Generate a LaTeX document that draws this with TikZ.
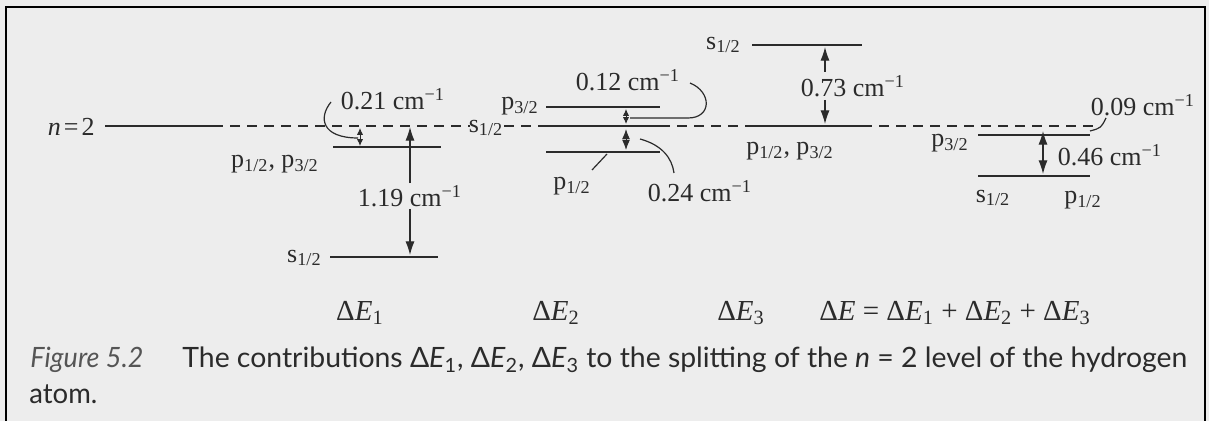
\documentclass[tikz,border=0pt]{standalone}
\usepackage{fontspec}
\setmainfont{Liberation Serif}
\newfontfamily\capfont{Lato}
\usetikzlibrary{arrows.meta,positioning,calc}
\definecolor{pagegray}{HTML}{EDEDED}
\definecolor{inkgray}{HTML}{2B2B2B}
\definecolor{capgray}{HTML}{555555}
\tikzset{
  level/.style={line width=1.3pt, draw=inkgray},
  mainline/.style={line width=0.8pt, draw=inkgray, dash pattern=on 5pt off 3.5pt},
  gap/.style={-{Latex[length=2.4mm,width=1.6mm]}, line width=0.6pt, draw=inkgray},
  tinygap/.style={{Latex[length=1.2mm,width=1.1mm]}-{Latex[length=1.2mm,width=1.1mm]}, line width=0.5pt, draw=inkgray},
  leader/.style={line width=0.6pt, draw=inkgray},
  lbl/.style={font=\fontsize{13}{15}\selectfont, text=inkgray, inner sep=1pt},
  sumlbl/.style={font=\fontsize{14.5}{17}\selectfont, text=inkgray, inner sep=1pt},
  captext/.style={font=\capfont\fontsize{14}{17}\selectfont, text=inkgray, inner sep=0pt, anchor=base west}
}

\begin{document}
\begin{tikzpicture}[x=0.5pt, y=-0.5pt]
  \useasboundingbox (0,0) rectangle (1209,421);
  \fill[pagegray] (0,0) rectangle (1209,421);
  \draw[line width=1.2pt, black] (6,421) -- (6,7) -- (1205,7) -- (1205,421);

  % n = 2 line
  \node[lbl, anchor=east] (nlbl) at (97,127) {\textit{n}\hspace{1.5pt}=\hspace{1.5pt}2};
  \coordinate (n2a) at (105,126);
  \coordinate (n2b) at (213,126);
  \draw[level, line width=1pt] (n2a) -- (n2b);
  \draw[mainline] (n2b) -- (470,126);
  \draw[mainline] (504,126) -- (546,126);
  \draw[mainline] (660,126) -- (752,126);
  \draw[mainline] (862,126) -- (1095,126);

  % Delta E1
  \coordinate (pa1) at (333,147);
  \coordinate (pb1) at (441,147);
  \coordinate (sa1) at (330,257);
  \coordinate (sb1) at (438,257);
  \draw[level] (pa1) -- (pb1);
  \draw[level] (sa1) -- (sb1);
  \node[lbl] (plbl1) at (275,164) {p\textsubscript{1/2}, p\textsubscript{3/2}};
  \node[lbl, anchor=east] (slbl1) at (324,258) {s\textsubscript{1/2}};
  \node[lbl] (gap1) at (410,196) {1.19 cm\textsuperscript{−1}};
  \coordinate (top1) at (410,127);
  \coordinate (bot1) at (410,255);
  \draw[gap] (gap1.north) -- (top1);
  \draw[gap] (gap1.south) -- (bot1);
  \node[lbl] (fine1) at (393,99) {0.21 cm\textsuperscript{−1}};
  \coordinate (ft1) at (360,128);
  \coordinate (fb1) at (360,146);
  \draw[tinygap] (ft1) -- (fb1);
  \draw[leader] (331,102) .. controls (318,118) and (322,138) .. (358,138);

  % Delta E2
  \coordinate (pa2) at (546,107);
  \coordinate (pb2) at (660,107);
  \coordinate (sa2) at (546,126);
  \coordinate (sb2) at (660,126);
  \coordinate (qa2) at (546,152);
  \coordinate (qb2) at (660,152);
  \draw[level] (pa2) -- (pb2);
  \draw[level] (sa2) -- (sb2);
  \draw[level] (qa2) -- (qb2);
  \node[lbl, anchor=east] (plbl2) at (541,106) {p\textsubscript{3/2}};
  \node[lbl] (slbl2) at (486,128) {s\textsubscript{1/2}};
  \node[lbl] (qlbl2) at (572,186) {p\textsubscript{1/2}};
  \draw[leader] (592,170) -- (607,154);
  \coordinate (ft2) at (626,109);
  \coordinate (fb2) at (626,124);
  \draw[tinygap] (ft2) -- (fb2);
  \coordinate (gt2) at (626,129);
  \coordinate (gb2) at (626,150);
  \draw[tinygap, {Latex[length=1.8mm,width=1.4mm]}-{Latex[length=1.8mm,width=1.4mm]}] (gt2) -- (gb2);
  \node[lbl] (fine2) at (628,80) {0.12 cm\textsuperscript{−1}};
  \draw[leader] (690,83) .. controls (712,92) and (712,118) .. (688,118) -- (630,118);
  \node[lbl] (lamb) at (700,191) {0.24 cm\textsuperscript{−1}};
  \draw[leader] (640,139) .. controls (662,145) and (672,158) .. (674,173);

  % Delta E3
  \coordinate (sa3) at (752,45);
  \coordinate (sb3) at (862,45);
  \coordinate (pa3) at (752,126);
  \coordinate (pb3) at (862,126);
  \draw[level] (sa3) -- (sb3);
  \draw[level] (pa3) -- (pb3);
  \node[lbl, anchor=east] (slbl3) at (743,45) {s\textsubscript{1/2}};
  \node[lbl] (plbl3) at (790,151) {p\textsubscript{1/2}, p\textsubscript{3/2}};
  \node[lbl] (gap3) at (853,86) {0.73 cm\textsuperscript{−1}};
  \coordinate (top3) at (825,47);
  \coordinate (bot3) at (825,124);
  \draw[gap] (825,72) -- (top3);
  \draw[gap] (825,100) -- (bot3);

  % total
  \coordinate (pa4) at (978,135);
  \coordinate (pb4) at (1090,135);
  \coordinate (sa4) at (978,176);
  \coordinate (sb4) at (1090,176);
  \draw[level] (pa4) -- (pb4);
  \draw[level] (sa4) -- (sb4);
  \node[lbl, anchor=east] (plbl4) at (971,143) {p\textsubscript{3/2}};
  \node[lbl] (slbl4) at (993,198) {s\textsubscript{1/2}};
  \node[lbl] (qlbl4) at (1083,200) {p\textsubscript{1/2}};
  \coordinate (top4) at (1043,131);
  \coordinate (bot4) at (1043,174);
  \draw[gap, {Latex[length=2.4mm,width=1.6mm]}-{Latex[length=2.4mm,width=1.6mm]}] (top4) -- (bot4);
  \node[lbl] (gap4) at (1110,155) {0.46 cm\textsuperscript{−1}};
  \node[lbl] (fine4) at (1143,105) {0.09 cm\textsuperscript{−1}};
  \draw[leader] (1090,131) .. controls (1101,128) .. (1106,118);

  % contributions
  \node[sumlbl] (de1) at (360,313) {Δ\textit{E}\textsubscript{1}};
  \node[sumlbl] (de2) at (556,313) {Δ\textit{E}\textsubscript{2}};
  \node[sumlbl] (de3) at (741,313) {Δ\textit{E}\textsubscript{3}};
  \node[sumlbl] (desum) at (955,313) {Δ\textit{E} = Δ\textit{E}\textsubscript{1} + Δ\textit{E}\textsubscript{2} + Δ\textit{E}\textsubscript{3}};

  % caption
  \node[captext, text=capgray] (fig) at (30,368) {\resizebox{56.5pt}{\height}{\itshape Figure 5.2}};
  \node[captext] (cap1) at (182,368) {\resizebox{502.5pt}{\height}{The contributions Δ\textit{E}\textsubscript{1}, Δ\textit{E}\textsubscript{2}, Δ\textit{E}\textsubscript{3} to the splitting of the \textit{n} = 2 level of the hydrogen}};
  \node[captext] (cap2) at (29,404) {\resizebox{34pt}{\height}{atom.}};
\end{tikzpicture}
\end{document}
